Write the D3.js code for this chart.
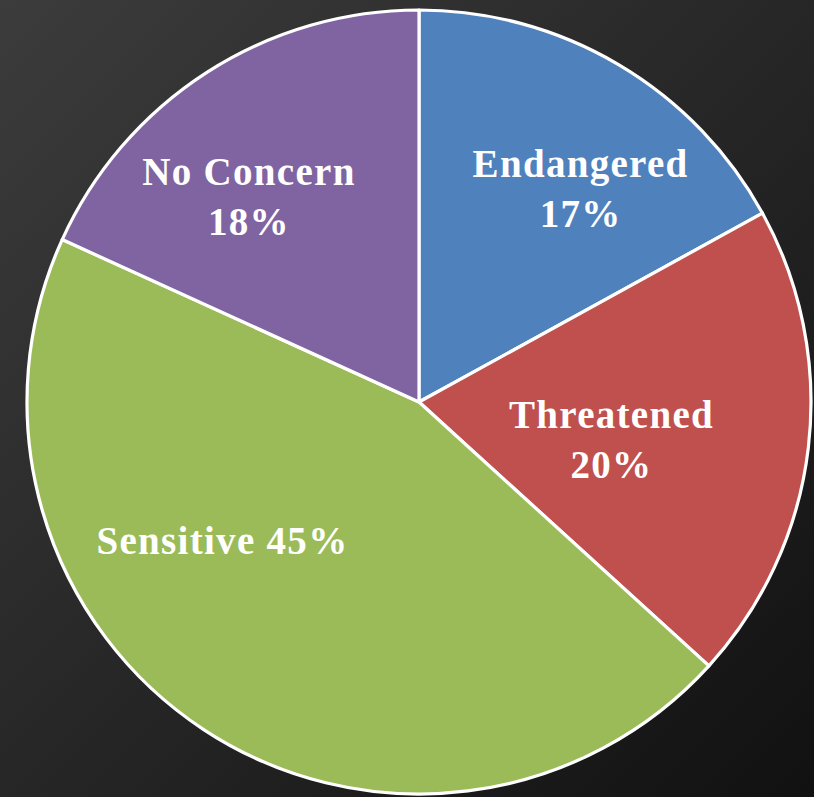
<!DOCTYPE html>
<html>
<head>
<meta charset="utf-8">
<script src="https://cdn.jsdelivr.net/npm/d3@7"></script>
<style>
html,body{margin:0;padding:0;background:#222;}
svg{display:block;}
</style>
</head>
<body>
<svg id="chart" width="814" height="797"></svg>
<script>
const categories = ["Endangered", "Threatened", "Sensitive", "No Concern"];
const values = [17.0, 19.75, 45.05, 18.2];
const colors = ["#4F81BD", "#C0504D", "#9BBB59", "#8064A2"];
// label layout: [angle in degrees clockwise from north, distance as fraction of radius]
const labelPolar = [[37, 0.685], [100.9, 0.50], [235, 0.612], [320.5, 0.682]];
const twoLine = [true, true, false, true];

const W = 814, H = 797;
const cx = 419, cy = 402, R = 392;
const svg = d3.select("#chart");

const defs = svg.append("defs");
const grad = defs.append("linearGradient").attr("id", "bg")
  .attr("x1", "0").attr("y1", "0").attr("x2", "1").attr("y2", "1");
grad.append("stop").attr("offset", "0").attr("stop-color", "#3c3c3c");
grad.append("stop").attr("offset", "1").attr("stop-color", "#111111");
svg.append("rect").attr("width", W).attr("height", H).attr("fill", "url(#bg)");

const pie = d3.pie().sort(null).value(d => d.v);
const data = pie(categories.map((c, i) => ({c, v: values[i], i})));
const arc = d3.arc().innerRadius(0).outerRadius(R);

const g = svg.append("g").attr("transform", `translate(${cx},${cy})`);
g.selectAll("path").data(data).join("path")
  .attr("d", arc)
  .attr("fill", d => colors[d.data.i])
  .attr("stroke", "#ffffff")
  .attr("stroke-width", 3.2)
  .attr("stroke-linejoin", "round");

const lab = g.selectAll("text").data(data).join("text")
  .attr("fill", "#ffffff")
  .attr("font-family", "'Liberation Serif', 'Times New Roman', serif")
  .attr("font-weight", "bold")
  .attr("font-size", 39)
  .attr("letter-spacing", 1.3)
  .attr("text-anchor", "middle")
  .attr("transform", d => {
    const [a, f] = labelPolar[d.data.i];
    const t = a * Math.PI / 180;
    return `translate(${Math.sin(t) * R * f},${-Math.cos(t) * R * f})`;
  });

lab.each(function(d) {
  const el = d3.select(this);
  const pct = d3.format(".0%")(d.data.v / d3.sum(values));
  if (twoLine[d.data.i]) {
    el.append("tspan").attr("x", 0).attr("y", -11).text(d.data.c);
    el.append("tspan").attr("x", 0).attr("y", 39).text(pct);
  } else {
    el.append("tspan").attr("x", 0).attr("y", 14).text(d.data.c + " " + pct);
  }
});
</script>
</body>
</html>
